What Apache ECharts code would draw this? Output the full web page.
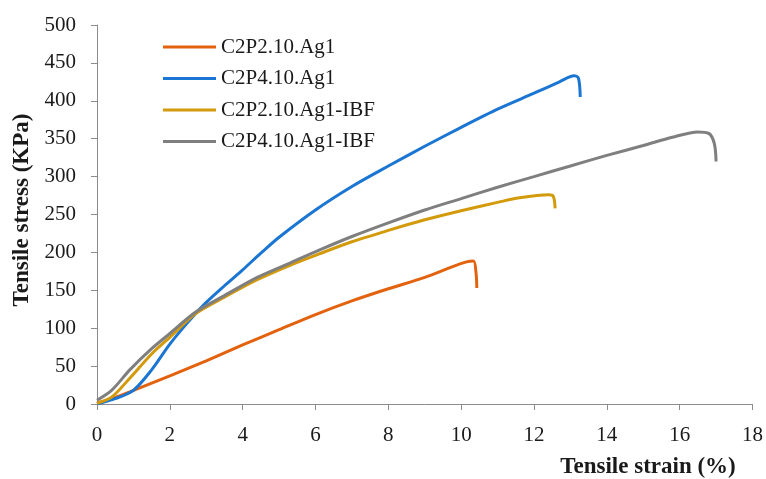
<!DOCTYPE html>
<html>
<head>
<meta charset="utf-8">
<script src="https://cdn.jsdelivr.net/npm/echarts@6/dist/echarts.min.js"></script>
<style>
  html, body { margin: 0; padding: 0; background: #fff; }
  #chart { width: 766px; height: 479px; }
</style>
</head>
<body>
<div id="chart"></div>
<script>
// Tensile stress–strain curves (strain in %, stress in KPa)
const seriesNames = ['C2P2.10.Ag1', 'C2P4.10.Ag1', 'C2P2.10.Ag1-IBF', 'C2P4.10.Ag1-IBF'];

const strainC2P2 = [0, 0.4, 0.9, 2, 3, 4, 5, 6, 7, 8, 9, 9.75, 10.15, 10.34, 10.41, 10.43];
const stressC2P2 = [1, 7, 16, 37, 57, 78, 98, 118, 136, 152, 167, 181, 187.5, 188.5, 172, 153];

const strainC2P4 = [0, 0.5, 1, 1.5, 2, 2.5, 3, 3.5, 4, 4.5, 5, 6, 7, 8, 9, 10, 11, 12, 12.7, 13.1, 13.22, 13.27];
const stressC2P4 = [0, 7, 18, 45, 79, 108, 134, 156, 177, 199, 220, 256, 287, 314, 340, 365, 389, 410, 425, 433, 430, 405];

const strainC2P2IBF = [0, 0.4, 0.9, 1.5, 2, 2.7, 3.5, 4.4, 5.3, 6.1, 7, 8, 9, 10, 11, 11.6, 12.4, 12.53, 12.58];
const stressC2P2IBF = [1, 9, 34, 66, 88, 119, 141, 164, 183, 198, 214, 229, 243, 255, 266, 272, 276, 274, 258];

const strainC2P4IBF = [0, 0.4, 0.9, 1.5, 2, 2.7, 3.5, 4.4, 5.3, 6.1, 7, 8, 9, 10, 11, 12, 13, 14, 15, 15.8, 16.5, 16.8, 16.95, 17.0];
const stressC2P4IBF = [5, 18, 45, 73, 93, 121, 143, 167, 186, 203, 221, 239, 256, 271, 286, 300, 314, 328, 341, 352, 359, 357, 344, 320];

const xTicks = { min: 0, max: 18, step: 2 };
const yTicks = { min: 0, max: 500, step: 50 };

const colors = ['#E2620E', '#1A76D2', '#D39A0C', '#7F7F7F'];

function pairs(xs, ys) { return xs.map((x, i) => [x, ys[i]]); }

const curves = [
  pairs(strainC2P2, stressC2P2),
  pairs(strainC2P4, stressC2P4),
  pairs(strainC2P2IBF, stressC2P2IBF),
  pairs(strainC2P4IBF, stressC2P4IBF)
];

const FONT = '"Liberation Serif", "DejaVu Serif", serif';
const axisGray = '#8C8C8C';
const textColor = '#1a1a1a';

const chart = echarts.init(document.getElementById('chart'), null, { renderer: 'canvas' });

chart.setOption({
  animation: false,
  backgroundColor: '#ffffff',
  color: colors,
  grid: { left: 97, right: 11, top: 25, bottom: 75, containLabel: false },
  legend: {
    orient: 'vertical',
    left: 163,
    top: 36.5,
    padding: 0,
    icon: 'rect',
    itemWidth: 53,
    itemHeight: 3,
    itemGap: 10.5,
    textStyle: { fontFamily: FONT, fontSize: 21, lineHeight: 21, color: textColor },
    data: seriesNames
  },
  xAxis: {
    type: 'value',
    min: xTicks.min, max: xTicks.max, interval: xTicks.step,
    axisLine: { lineStyle: { color: axisGray, width: 1 } },
    axisTick: { show: true, inside: false, length: 6, lineStyle: { color: axisGray } },
    axisLabel: { fontFamily: FONT, fontSize: 21, color: textColor, margin: 21 },
    splitLine: { show: false }
  },
  yAxis: {
    type: 'value',
    min: yTicks.min, max: yTicks.max, interval: yTicks.step,
    axisLine: { show: true, lineStyle: { color: axisGray, width: 1 } },
    axisTick: { show: true, inside: false, length: 6, lineStyle: { color: axisGray } },
    axisLabel: { fontFamily: FONT, fontSize: 21, color: textColor, margin: 21 },
    splitLine: { show: false }
  },
  graphic: [
    {
      type: 'text',
      x: 648, y: 467,
      style: {
        text: 'Tensile strain (%)', fontFamily: FONT, fontSize: 23, fontWeight: 'bold',
        fill: textColor, align: 'center', verticalAlign: 'middle'
      }
    },
    {
      type: 'text',
      x: 22, y: 210,
      rotation: Math.PI / 2,
      style: {
        text: 'Tensile stress (KPa)', fontFamily: FONT, fontSize: 23, fontWeight: 'bold',
        fill: textColor, align: 'center', verticalAlign: 'middle'
      }
    }
  ],
  series: curves.map((d, i) => ({
    name: seriesNames[i],
    type: 'line',
    data: d,
    symbol: 'none',
    smooth: 0.3,
    lineStyle: { width: 3, color: colors[i] },
    z: i === 1 ? 4 : 2 + i
  }))
});
</script>
</body>
</html>
